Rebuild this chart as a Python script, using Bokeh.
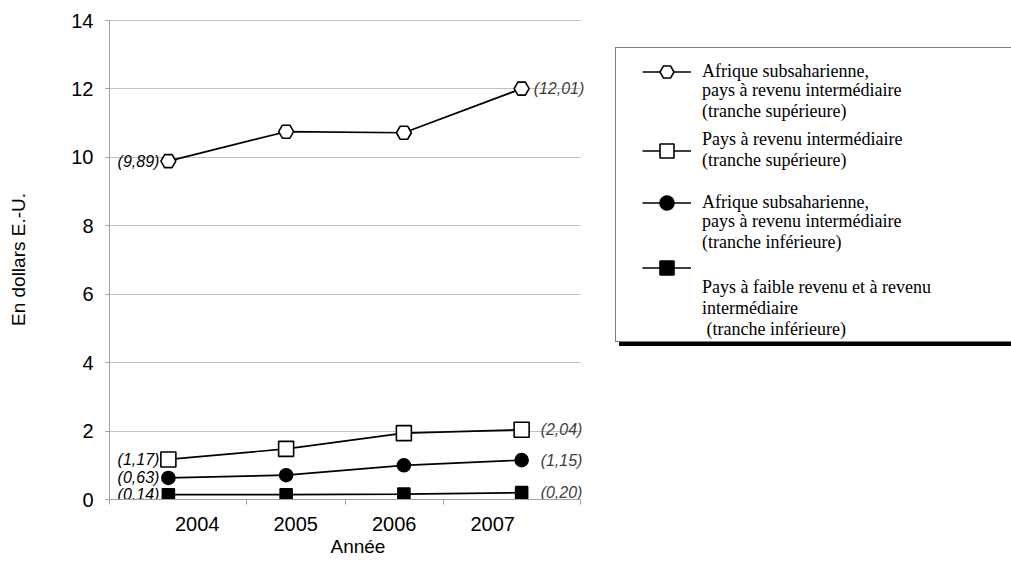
from bokeh.plotting import figure
from bokeh.models import (FixedTicker, SingleIntervalTicker, Legend, LegendItem,
                          BoxAnnotation, Title)
from bokeh.embed import file_html
from bokeh.resources import INLINE
from bokeh.core.properties import value

# ---- data ----
years = [2004, 2005, 2006, 2007]
year_labels = ["2004", "2005", "2006", "2007"]
ssa_upper = [9.89, 10.75, 10.72, 12.01]
upper_middle = [1.17, 1.48, 1.94, 2.04]
ssa_lower = [0.63, 0.71, 1.00, 1.15]
low_lower = [0.14, 0.14, 0.16, 0.20]
# legend text: (line shown beside the marker, following lines)
legend_first = ["Afrique subsaharienne,",
                "Pays à revenu intermédiaire\n(tranche supérieure)",
                "Afrique subsaharienne,",
                " "]
legend_rest = ["pays à revenu intermédiaire\n(tranche supérieure)",
               None,
               "pays à revenu intermédiaire\n(tranche inférieure)",
               "Pays à faible revenu et à revenu\nintermédiaire\n (tranche inférieure)"]
y_title = "En dollars E.-U."
x_title = "Année"

series = [ssa_upper, upper_middle, ssa_lower, low_lower]
markers = ["hex", "square", "circle", "square"]
fills = ["white", "white", "black", "black"]
sizes = [15, 15, 13, 12]

# plot-area extent (axis spans x_lo..x_hi, frame continues under the legend)
x_lo, x_hi, x_frame_end = 2003.5, 2007.5, 2011.16


def fmt(v):
    return "(" + f"{v:.2f}".replace(".", ",") + ")"


p = figure(width=1011, height=562, x_range=(x_lo, x_frame_end), y_range=(0, 14.03),
           output_backend="svg", toolbar_location=None,
           min_border_left=109, min_border_right=0, min_border_top=19, min_border_bottom=63)
p.outline_line_color = None
p.background_fill_color = "white"

# hide grid lines to the right of the axis extent
p.add_layout(BoxAnnotation(left=x_hi, fill_color="white", fill_alpha=1, line_color=None,
                           level="underlay"))

renderers = []
for vals, m, f, s in zip(series, markers, fills, sizes):
    lr = p.line(years, vals, line_color="black", line_width=1.7)
    sr = p.scatter(years, vals, marker=m, size=s, fill_color=f, line_color="black", line_width=1.6)
    renderers.append([lr, sr])

# data labels
first_vals = [s[0] for s in series]
last_vals = [s[-1] for s in series]
p.text(x=[years[0]] * 4, y=first_vals, text=[fmt(v) for v in first_vals],
       x_offset=-9, text_align="right", text_baseline="middle",
       text_font=value("Liberation Sans"), text_font_style="italic",
       text_font_size="16px", text_color="black")
p.text(x=[years[-1]] * 4, y=last_vals, text=[fmt(v) for v in last_vals],
       x_offset=[12, 19, 19, 19], text_align="left", text_baseline="middle",
       text_font=value("Liberation Sans"), text_font_style="italic",
       text_font_size="16px", text_color="#404040")

# x axis: category-like labels and separator ticks
cat_w = 0.8365
first_b = 2003.827
label_pos = [first_b + (i + 0.5) * cat_w for i in range(len(years))]
sep_pos = [x_lo] + [first_b + i * cat_w for i in range(1, len(years))] + [x_hi]
xa = p.xaxis[0]
xa.bounds = (x_lo, x_hi)
xa.ticker = FixedTicker(ticks=label_pos, minor_ticks=sep_pos)
xa.major_label_overrides = {pos: lab for pos, lab in zip(label_pos, year_labels)}
xa.major_tick_line_color = None
xa.major_tick_out = 0
xa.major_tick_in = 0
xa.minor_tick_line_color = "#a0a0a0"
xa.minor_tick_out = 5
xa.minor_tick_in = 0
xa.axis_line_color = "#a0a0a0"
xa.major_label_standoff = 12
xa.major_label_text_font = "Liberation Sans"
xa.major_label_text_font_size = "20px"
xa.major_label_text_color = "black"

p.add_layout(Title(text=x_title, align="left", offset=221, standoff=0,
                   text_font="Liberation Sans", text_font_style="normal",
                   text_font_size="19px", text_color="black"), "below")

ya = p.yaxis[0]
ya.ticker = SingleIntervalTicker(interval=2, num_minor_ticks=0)
ya.bounds = (0, 14)
ya.axis_line_color = "#a0a0a0"
ya.major_tick_line_color = "#a0a0a0"
ya.major_tick_out = 4
ya.major_tick_in = 0
ya.minor_tick_line_color = None
ya.major_label_standoff = 12
ya.major_label_text_font = "Liberation Sans"
ya.major_label_text_font_size = "20px"
ya.major_label_text_color = "black"
ya.axis_label = y_title
ya.axis_label_text_font = "Liberation Sans"
ya.axis_label_text_font_style = "normal"
ya.axis_label_text_font_size = "19px"
ya.axis_label_text_color = "black"
ya.axis_label_standoff = 39

p.xgrid.visible = False
p.ygrid.grid_line_color = "#c0c0c0"
p.ygrid.grid_line_width = 1

# legend: shadow, box, then one legend block per series (marker line, following lines)
dummy = p.line(x=[], y=[], line_alpha=0)
common_box = dict(padding=0, spacing=0, glyph_width=1, glyph_height=1, label_standoff=0,
                  label_width=420, label_height=293, label_text_alpha=0)
p.add_layout(Legend(items=[LegendItem(label=" ", renderers=[dummy])], location=(510, 153.5),
                    border_line_color=None, background_fill_color="black",
                    background_fill_alpha=1, **common_box), "center")
p.add_layout(Legend(items=[LegendItem(label=" ", renderers=[dummy])], location=(506, 157),
                    border_line_color="black", border_line_width=1,
                    background_fill_color="white", background_fill_alpha=1, **common_box), "center")

text_style = dict(label_text_font="Liberation Serif", label_text_font_size="18px",
                  label_text_color="black", label_text_line_height=1.15,
                  padding=0, spacing=0, glyph_width=49, label_standoff=11,
                  border_line_color=None, background_fill_alpha=0)
glyph_y = [410.5, 328, 279.5, 214.5]
rest_y = [377.5, None, 246.5, 159.5]
for r, first, rest, gy, ry in zip(renderers, legend_first, legend_rest, glyph_y, rest_y):
    p.add_layout(Legend(items=[LegendItem(label=first, renderers=r)], location=(533, gy),
                        glyph_height=35, **text_style), "center")
    if rest is not None:
        p.add_layout(Legend(items=[LegendItem(label=rest, renderers=[dummy])], location=(533, ry),
                            glyph_height=1, **text_style), "center")

open("out.html", "w").write(file_html(p, INLINE))
